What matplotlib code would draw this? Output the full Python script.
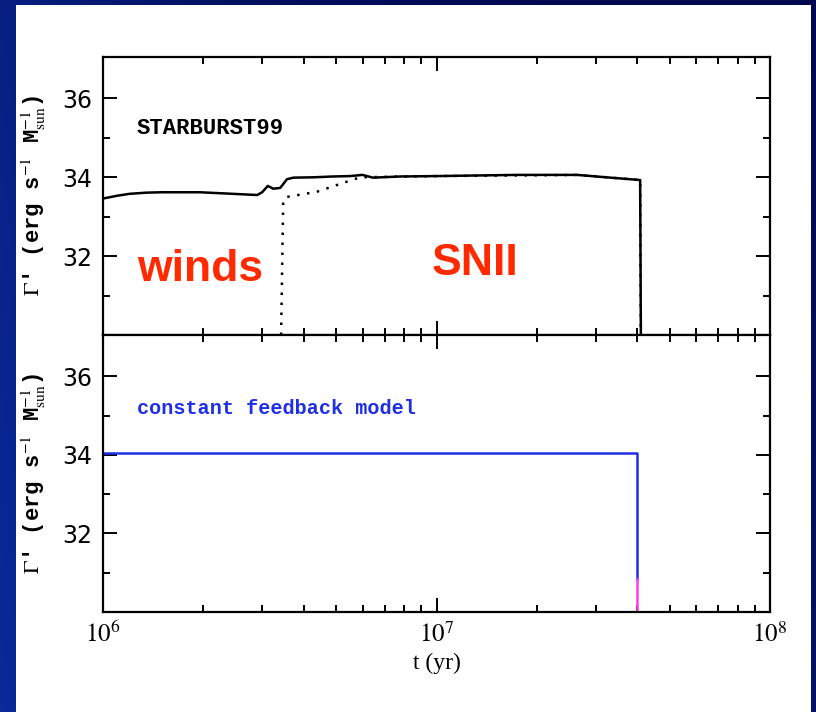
import numpy as np
import matplotlib
matplotlib.use('Agg')
import matplotlib.pyplot as plt
from matplotlib.patches import Rectangle
from matplotlib.ticker import FuncFormatter, FixedLocator, LogLocator

plt.rcParams['mathtext.fontset'] = 'stix'

# STARBURST99 total (solid) : time [yr], log Gamma'
sb_t = [1.0e6, 1.1e6, 1.2e6, 1.35e6, 1.5e6, 1.95e6, 2.45e6, 2.9e6, 3.0e6, 3.12e6, 3.24e6,
        3.4e6, 3.56e6, 3.72e6, 4.3e6, 4.9e6, 5.5e6, 6.0e6, 6.45e6, 7.8e6, 1.0e7,
        1.74e7, 2.64e7, 3.33e7, 4.08e7, 4.1e7]
sb_g = [33.46, 33.53, 33.58, 33.61, 33.62, 33.62, 33.58, 33.55, 33.62, 33.78, 33.71,
        33.73, 33.95, 33.99, 34.00, 34.02, 34.03, 34.06, 33.99, 34.02, 34.03,
        34.06, 34.06, 33.99, 33.93, 30.0]

# SNII contribution (dotted)
sn_t = [3.42e6, 3.47e6, 3.55e6, 4.37e6, 5.9e6, 1.0e7, 2.64e7, 4.08e7, 4.1e7]
sn_g = [30.0, 33.40, 33.50, 33.63, 34.00, 34.03, 34.06, 33.93, 30.0]

# constant feedback model
cf_t = [1.0e6, 4.0e7, 4.0e7]
cf_g = [34.05, 34.05, 30.85]
cf_tail_t = [4.0e7, 4.0e7]
cf_tail_g = [30.85, 30.0]

fig = plt.figure(figsize=(8.16, 7.12), dpi=100)

# slide background
bg = fig.add_axes([0, 0, 1, 1], zorder=-10)
gx = np.linspace(0, 1, 200)
gy = np.linspace(0, 1, 200)
GX, GY = np.meshgrid(gx, gy)
grad = 0.55 * (1 - GX) ** 3 + 0.25 * (1 - GY)
bg.imshow(grad, cmap=matplotlib.colors.LinearSegmentedColormap.from_list(
    'slide', ['#000850', '#0a2a9a']), aspect='auto', extent=[0, 1, 0, 1], origin='lower')
bg.set_xlim(0, 1)
bg.set_ylim(0, 1)
bg.axis('off')
bg.add_patch(Rectangle((16 / 816, 0), (811 - 16) / 816, 1 - 5 / 712,
                       facecolor='white', edgecolor='none'))

ax1 = fig.add_axes([103 / 816, 1 - 335 / 712, 667 / 816, 278 / 712])
ax2 = fig.add_axes([103 / 816, 1 - 612 / 712, 667 / 816, 277 / 712])

ylab = r"$\Gamma$' (erg s$^{-1}$ M$_{\rm sun}^{-1}$)"

for ax in (ax1, ax2):
    ax.set_xscale('log')
    ax.set_xlim(1e6, 1e8)
    ax.set_ylim(30, 37.05)
    ax.yaxis.set_major_locator(FixedLocator([32, 34, 36]))
    ax.yaxis.set_minor_locator(FixedLocator([31, 33, 35]))
    ax.xaxis.set_major_locator(LogLocator(base=10))
    ax.xaxis.set_minor_locator(LogLocator(base=10, subs=np.arange(2, 10)))
    ax.tick_params(which='both', direction='in', top=True, right=True, width=1.4)
    ax.tick_params(which='major', length=10)
    ax.tick_params(which='minor', length=5)
    ax.tick_params(axis='y', labelsize=17, pad=8)
    for sp in ax.spines.values():
        sp.set_linewidth(1.6)
    ax.set_ylabel(ylab, fontsize=16, fontfamily='Liberation Mono', fontweight='bold', labelpad=10)

ax1.tick_params(axis='x', labelbottom=False)
ax2.xaxis.set_major_formatter(FuncFormatter(lambda v, p: r'$10^{%d}$' % round(np.log10(v))))
ax2.tick_params(axis='x', labelsize=18, pad=7)
ax2.set_xlabel('t (yr)', fontsize=17, fontfamily='Liberation Serif', labelpad=4)

ax1.plot(sb_t, sb_g, color='black', lw=1.8)
ax1.plot(sn_t, sn_g, color='black', lw=1.8, ls=(0, (1, 3)))
ax1.text(1.265e6, 35.23, 'STARBURST99', fontsize=16, fontfamily='Liberation Mono',
         fontweight='bold', va='center', ha='left')
ax1.text(1.27e6, 31.38, 'winds', fontsize=32, fontweight='bold', color='#ff2a00',
         fontfamily='Liberation Sans', va='baseline', ha='left')
ax1.text(9.69e6, 31.51, 'SNII', fontsize=32, fontweight='bold', color='#ff2a00',
         fontfamily='Liberation Sans', va='baseline', ha='left')

ax2.plot(cf_t, cf_g, color='#1f2fe6', lw=1.8)
ax2.plot(cf_tail_t, cf_tail_g, color='#ff40e0', lw=1.8)
ax2.text(1.265e6, 35.18, 'constant feedback model', fontsize=14.5, fontweight='bold',
         fontfamily='Liberation Mono', color='#1f2fe6', va='center', ha='left')

fig.savefig('out.png', dpi=100)
